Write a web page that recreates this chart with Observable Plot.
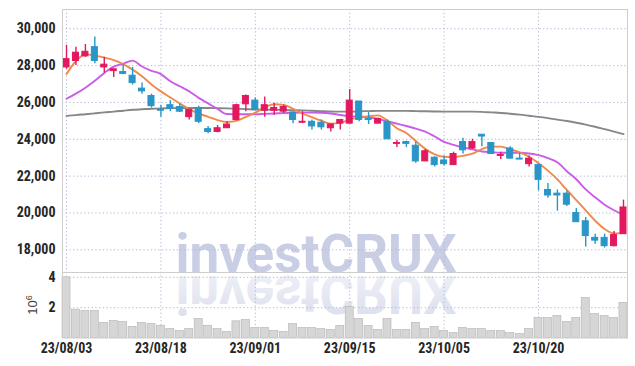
<!DOCTYPE html>
<html><head><meta charset="utf-8">
<script src="https://cdn.jsdelivr.net/npm/d3@7"></script>
<script src="https://cdn.jsdelivr.net/npm/@observablehq/plot@0.6"></script>
<style>
body{margin:0;background:#fff;}
#wrap{position:relative;width:635px;height:366px;overflow:hidden;background:#fff;}
#wrap > svg{position:absolute;left:0;}
</style></head><body><div id="wrap"></div>
<script>
const dates = ["23/08/03","23/08/04","23/08/07","23/08/08","23/08/09","23/08/10","23/08/11","23/08/14","23/08/16","23/08/17",
"23/08/18","23/08/21","23/08/22","23/08/23","23/08/24","23/08/25","23/08/28","23/08/29","23/08/30","23/08/31",
"23/09/01","23/09/04","23/09/05","23/09/06","23/09/07","23/09/08","23/09/11","23/09/12","23/09/13","23/09/14",
"23/09/15","23/09/18","23/09/19","23/09/20","23/09/21","23/09/22","23/09/25","23/09/26","23/09/27","23/10/04",
"23/10/05","23/10/06","23/10/10","23/10/11","23/10/12","23/10/13","23/10/16","23/10/17","23/10/18","23/10/19",
"23/10/20","23/10/23","23/10/24","23/10/25","23/10/26","23/10/27","23/10/30","23/10/31","23/11/01","23/11/02"];
const open  = [27900,28250,28500,29000,27900,27700,27650,27450,26750,26350,25600,25850,25750,25200,25700,24550,24400,24600,25050,25900,26100,25550,25550,25500,25450,24900,24950,24900,24600,24850,24850,26050,25100,24850,24950,23750,23850,23650,22800,23000,22850,22600,23850,23500,24250,23800,23100,23500,22950,22650,22600,21250,21050,21050,20000,19550,18650,18650,18200,18850];
const high  = [29100,29000,29150,29550,28450,27800,28050,27900,27050,26450,25850,26100,25900,25650,25800,24700,24750,24950,25900,26400,26250,26300,25950,25850,25500,25500,25050,25050,24850,25050,26700,26050,25450,25150,25050,23950,23900,23850,23450,23050,23100,23300,24050,24000,24250,23800,23300,23600,23250,23100,22650,21600,21250,21200,20250,19750,18850,18850,19000,20700];
const low   = [27800,28000,28450,28100,27600,27350,27500,26950,26450,25700,25200,25500,25450,25050,24850,24300,24350,24600,25000,25500,25550,25200,25300,25400,24850,24850,24500,24500,24400,24500,24850,24950,24800,24850,24000,23550,23550,22700,22800,22500,22550,22600,23200,23450,23600,23200,22900,22950,22900,22500,21200,20800,20100,20350,19500,18150,18300,18100,18150,18850];
const close = [28350,28700,28750,28250,28050,27800,27550,27050,26600,25800,25550,25650,25500,25600,24950,24400,24600,24800,25850,26350,25600,25850,25700,25750,25050,24950,24700,24650,24800,25050,26100,25050,25050,25100,24000,23800,23750,22800,23350,22600,22650,23200,23400,23850,24150,23200,23150,22950,22900,22950,21800,20950,20950,20450,19500,18750,18500,18200,18800,20300];
// trading volume, millions of shares
const volume = [4.0,1.87,1.78,1.78,0.99,1.12,1.06,0.73,0.99,0.92,0.81,0.59,0.46,0.59,1.25,0.81,0.59,0.40,1.10,1.19,0.66,0.66,0.46,0.40,0.92,0.66,0.66,0.59,0.53,0.79,2.05,1.25,0.79,0.53,1.25,0.53,0.53,0.99,0.59,0.73,0.46,0.33,0.66,0.59,0.59,0.46,0.46,0.33,0.26,0.59,1.32,1.32,1.45,1.06,1.32,2.64,1.58,1.45,1.32,2.31];
const ma5  = [27540,28250,28620,28540,28430,28300,28080,27780,27420,26980,26600,26270,25940,25640,25400,25220,25040,24940,25000,25215,25450,25730,25900,25870,25650,25400,25200,25010,24850,24890,25080,25170,25250,25300,25010,24600,24340,23910,23480,23180,23050,23040,23100,23220,23470,23600,23600,23460,23290,23050,22700,22300,21820,21250,20700,20140,19580,19130,18890,18920];
const ma10 = [26200,26480,26800,27180,27600,27950,28100,28270,27950,27720,27540,27150,26880,26600,26250,25950,25650,25370,25360,25360,25360,25380,25400,25420,25440,25450,25450,25440,25400,25320,25260,25230,25200,25100,24970,24850,24720,24580,24420,24150,23860,23700,23560,23450,23340,23300,23270,23270,23270,23230,23140,22980,22750,22270,21830,21280,20850,20450,20150,19910];
const ma60 = [25270,25310,25360,25410,25460,25500,25550,25600,25630,25660,25680,25690,25700,25700,25700,25700,25690,25680,25660,25640,25620,25610,25600,25590,25580,25570,25550,25530,25510,25500,25500,25520,25530,25540,25540,25540,25540,25530,25520,25510,25500,25500,25500,25500,25490,25460,25430,25390,25340,25280,25220,25150,25070,24990,24900,24800,24680,24550,24420,24280];
const xTicks = ["23/08/03","23/08/18","23/09/01","23/09/15","23/10/05","23/10/20"];
const priceTicks = [18000,20000,22000,24000,26000,28000,30000];
const volumeTicks = [2,4];

const rows = dates.map((d,i)=>({date:d, open:open[i], high:high[i], low:low[i], close:close[i],
  volume:volume[i], ma5:ma5[i], ma10:ma10[i], ma60:ma60[i], up: close[i] >= open[i]}));

const UP = "#e2195f", DOWN = "#2a95c7";
const FONT = "'Roboto Condensed','Liberation Sans Narrow','DejaVu Sans Condensed',Roboto,sans-serif";
const GRID = {stroke:"#b4b8d6", strokeOpacity:1, strokeDasharray:"1.3,2.4", strokeWidth:1};
const xScale = {type:"band", domain:dates, paddingInner:0.15, paddingOuter:0, round:false, label:null};
const baseStyle = {fontFamily:FONT, fontSize:"14px", fontWeight:"bold", color:"#262626", background:"transparent", overflow:"visible"};

const price = Plot.plot({
  width:635, height:272, marginTop:9, marginBottom:0, marginLeft:62, marginRight:8,
  style: baseStyle,
  x: {...xScale, axis:null},
  y: {domain:[16770,31045], axis:null, label:null},
  marks: [
    Plot.gridY(priceTicks, GRID),
    Plot.gridX(xTicks, GRID),
    Plot.axisY(priceTicks, {tickSize:0, tickPadding:7, tickFormat:d3.format(","), label:null}),
    Plot.lineY(rows, {x:"date", y:"ma60", stroke:"#878787", strokeWidth:1.9, curve:"monotone-x"}),
    Plot.lineY(rows, {x:"date", y:"ma10", stroke:"#c95de8", strokeWidth:1.9, curve:"monotone-x"}),
    Plot.lineY(rows, {x:"date", y:"ma5", stroke:"#ef8a4d", strokeWidth:1.9, curve:"monotone-x"}),
    Plot.ruleX(rows, {filter:d=>d.up, x:"date", y1:"low", y2:"high", stroke:UP, strokeWidth:1.4}),
    Plot.ruleX(rows, {filter:d=>!d.up, x:"date", y1:"low", y2:"high", stroke:DOWN, strokeWidth:1.4}),
    Plot.barY(rows, {filter:d=>d.up, x:"date", y1:"open", y2:"close", fill:UP, stroke:UP, strokeWidth:1, insetLeft:1, insetRight:1}),
    Plot.barY(rows, {filter:d=>!d.up, x:"date", y1:"open", y2:"close", fill:DOWN, stroke:DOWN, strokeWidth:1, insetLeft:1, insetRight:1}),
    Plot.frame({stroke:"#cdcdcd"})
  ]
});

const vol = Plot.plot({
  width:635, height:94, marginTop:0, marginBottom:28.5, marginLeft:62, marginRight:8,
  style: baseStyle,
  x: {...xScale},
  y: {domain:[0,4.32], axis:null, label:null},
  marks: [
    Plot.gridY(volumeTicks, GRID),
    Plot.gridX(xTicks, GRID),
    Plot.barY(rows, {x:"date", y:"volume", fill:"#d6d6d6", stroke:"#b2b2b2", strokeWidth:0.6}),
    Plot.axisY(volumeTicks, {tickSize:0, tickPadding:7, label:null}),
    Plot.axisX(xTicks, {tickSize:0, tickPadding:5, label:null}),
    Plot.frame({stroke:"#cdcdcd"})
  ]
});

const wrap = document.getElementById("wrap");
const bg = d3.create("svg").attr("width",635).attr("height",366).style("top","0px");
const defs = bg.append("defs");
const lg = defs.append("linearGradient").attr("id","refl").attr("x1",0).attr("y1",0).attr("x2",0).attr("y2",1);
lg.append("stop").attr("offset","0%").attr("stop-color","#d9ddec");
lg.append("stop").attr("offset","100%").attr("stop-color","#f3f4f9");
bg.append("text").text("investCRUX").attr("x",316).attr("y",271.5).attr("text-anchor","middle")
  .attr("font-family","Roboto, 'DejaVu Sans', sans-serif").attr("font-weight",700).attr("font-size",53)
  .attr("fill","#c9cee5");
bg.append("g").attr("transform","translate(0,547) scale(1,-1)")
  .append("text").text("investCRUX").attr("x",316).attr("y",271.5).attr("text-anchor","middle")
  .attr("font-family","Roboto, 'DejaVu Sans', sans-serif").attr("font-weight",700).attr("font-size",53)
  .attr("fill","url(#refl)");
wrap.appendChild(bg.node());

price.style.top = "0px";
vol.style.top = "272px";
wrap.appendChild(price);
wrap.appendChild(vol);

const fg = d3.create("svg").attr("width",635).attr("height",366).style("top","0px").style("pointer-events","none");
const unit = fg.append("text").attr("transform","translate(37,305) rotate(-90)").attr("text-anchor","middle")
  .attr("font-family","'Liberation Sans',sans-serif").attr("font-size",13).attr("fill","#444");
unit.append("tspan").text("10");
unit.append("tspan").text("6").attr("font-size",9).attr("dy",-5);
wrap.appendChild(fg.node());
</script></body></html>
